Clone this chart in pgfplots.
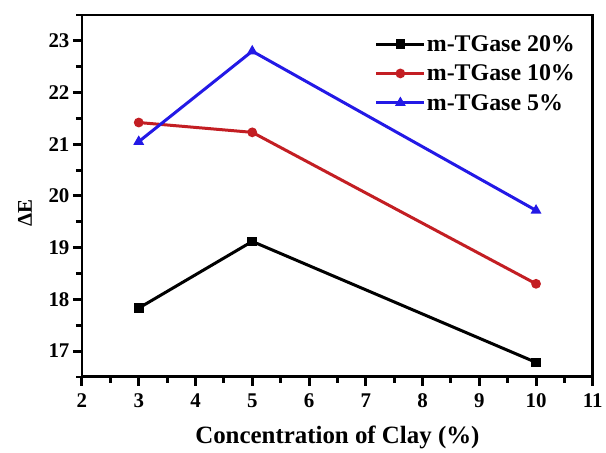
\documentclass[border=0pt]{standalone}
\usepackage{pgfplots}
\pgfplotsset{compat=1.18}
\usepackage{fontspec}
\setmainfont{Liberation Serif}
\definecolor{cred}{RGB}{195,30,35}
\definecolor{cblue}{RGB}{35,25,230}
\begin{document}
\begin{tikzpicture}[x=1bp,y=1bp]
\begin{axis}[
  name=ax,
  scale only axis,
  width=511bp, height=362bp,
  xmin=2, xmax=11, ymin=16.5, ymax=23.5,
  xtick={2,...,11}, ytick={17,...,23},
  minor x tick num=1, minor y tick num=1,
  tick align=outside,
  axis line style={line width=2.8bp},
  every tick/.style={line width=3bp, black},
  major tick length=9bp, minor tick length=6bp,
  xtick pos=bottom, ytick pos=left,
  /pgf/number format/assume math mode=true,
  tick label style={font=\fontsize{21}{24}\selectfont\bfseries},
  xticklabel style={yshift=-4bp},
  yticklabel style={xshift=0bp},
  xlabel={\fontsize{25}{28}\selectfont\bfseries Concentration of Clay (\%)},
  ylabel={\fontsize{21}{24}\selectfont\bfseries ΔE},
  every axis x label/.style={at={(rel axis cs:0.5,0)}, anchor=center, yshift=-61bp},
  every axis y label/.style={at={(rel axis cs:0,0.453)}, rotate=90, anchor=center, yshift=57bp},
  legend style={draw=none, fill=none, at={(0.573,0.947)}, anchor=north west,
    font=\fontsize{24}{26}\selectfont\bfseries, row sep=10bp, inner sep=0pt,
    nodes={inner sep=1bp}},
  legend cell align=left,
  legend image code/.code={\draw[#1] (0bp,0bp) -- (48bp,0bp); \path[#1,mark repeat=2,mark phase=2] plot coordinates {(0bp,0bp) (24bp,0bp) (48bp,0bp)};},
  every axis plot/.append style={line width=3bp, mark size=3.3bp},
]
\addplot[black, mark=square*] coordinates {(3,17.83) (5,19.12) (10,16.78)};
\addlegendentry{m-TGase 20\%}
\addplot[cred, mark=*] coordinates {(3,21.42) (5,21.23) (10,18.30)};
\addlegendentry{m-TGase 10\%}
\addplot[cblue, mark=triangle*] coordinates {(3,21.05) (5,22.80) (10,19.72)};
\addlegendentry{m-TGase 5\%}
\end{axis}
\draw[line width=2.8bp] (ax.south west) rectangle (ax.north east);
\foreach \i in {0,...,9} \draw[line width=3bp] ([xshift=\i*56.778bp]ax.south west) -- ++(0,-9bp);
\foreach \i in {0,...,8} \draw[line width=2.6bp] ([xshift=\i*56.778bp+28.389bp]ax.south west) -- ++(0,-6bp);
\foreach \i in {0,...,6} \draw[line width=3bp] ([yshift=\i*51.714bp+25.857bp]ax.south west) -- ++(-9bp,0);
\foreach \i in {0,...,7} \draw[line width=2.6bp] ([yshift=\i*51.714bp]ax.south west) -- ++(-6bp,0);
\path (ax.south west) ++(-82bp,-74bp) coordinate (bl);
\path (ax.north east) ++(13bp,15bp) coordinate (tr);
\useasboundingbox (bl) rectangle (tr);
\end{tikzpicture}
\end{document}
